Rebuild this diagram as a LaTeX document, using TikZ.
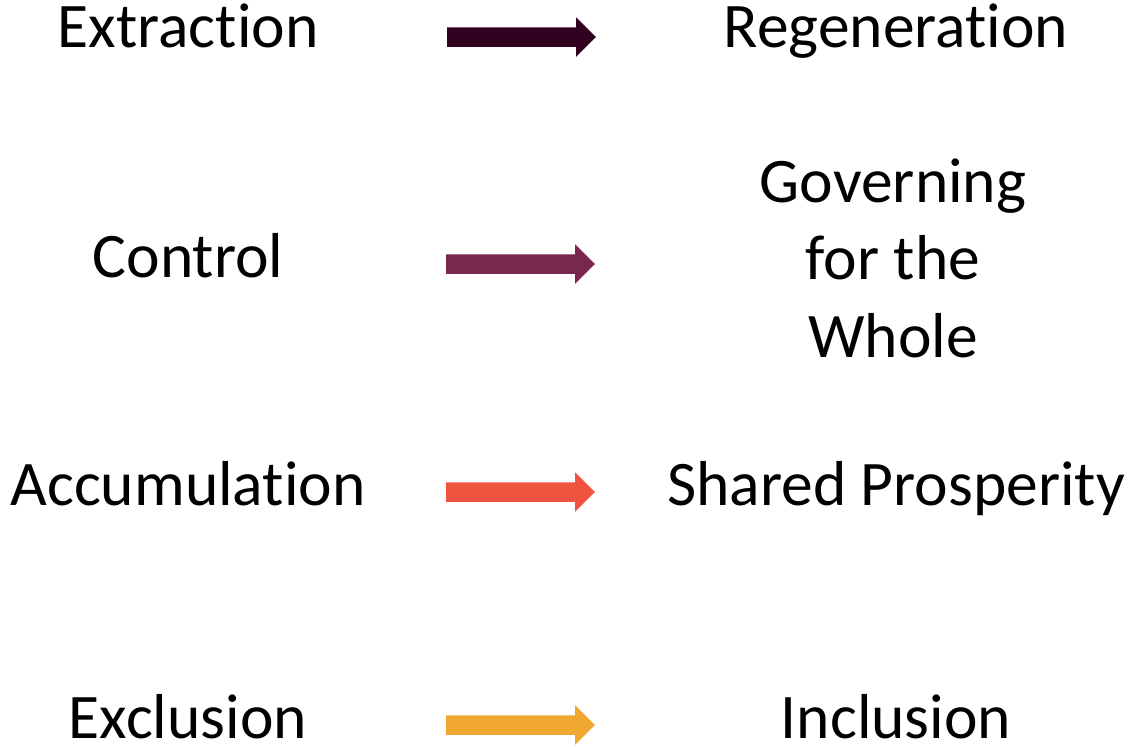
\documentclass[tikz,border=0pt]{standalone}
\usepackage{fontspec}
\setmainfont{Carlito}[Ligatures={NoCommon}]
\usetikzlibrary{calc,%
		positioning}

\definecolor{cExtr}{HTML}{310321}
\definecolor{cCtrl}{HTML}{7A274F}
\definecolor{cAccu}{HTML}{EF5441}
\definecolor{cExcl}{HTML}{F0A830}

% block arrow: colour, start point
\newcommand{\blockarrow}[2]{%
\fill[#1] (#2) ++(0,-9.75) -- ++(129,0) -- ++(0,-10) -- ++(20,19.75)
  -- ++(-20,19.75) -- ++(0,-10) -- ++(-129,0) -- cycle;}

\tikzset{word/.style={anchor=base,inner sep=0pt,align=center,
  font=\fontsize{31.75pt}{38.75pt}\selectfont}}

\begin{document}
\begin{tikzpicture}[x=0.5pt,y=-0.5pt]
\useasboundingbox (0,0) rectangle (1132,746);

\begin{scope}
\node[word] (extr) at (188,47) {Extraction};
\node[word] (ctrl) at (188,277) {Control};
\node[word] (accu) at (188,505) {Accumulation};
\node[word] (excl) at (188,738) {Exclusion};

\node[word] (rege) at (896,47) {Regeneration};
\node[word] (gove) at (893,357) {Governing\\for the\\ Whole};
\node[word] (shar) at (896,505) {Shared Prosperity};
\node[word] (incl) at (896,738) {Inclusion};
\end{scope}

\begin{scope}
\coordinate (a1) at (447,37);
\coordinate (a2) at (446,264);
\coordinate (a3) at (446,492);
\coordinate (a4) at (446,725);

\blockarrow{cExtr}{a1}
\blockarrow{cCtrl}{a2}
\blockarrow{cAccu}{a3}
\blockarrow{cExcl}{a4}
\end{scope}

\end{tikzpicture}
\end{document}
